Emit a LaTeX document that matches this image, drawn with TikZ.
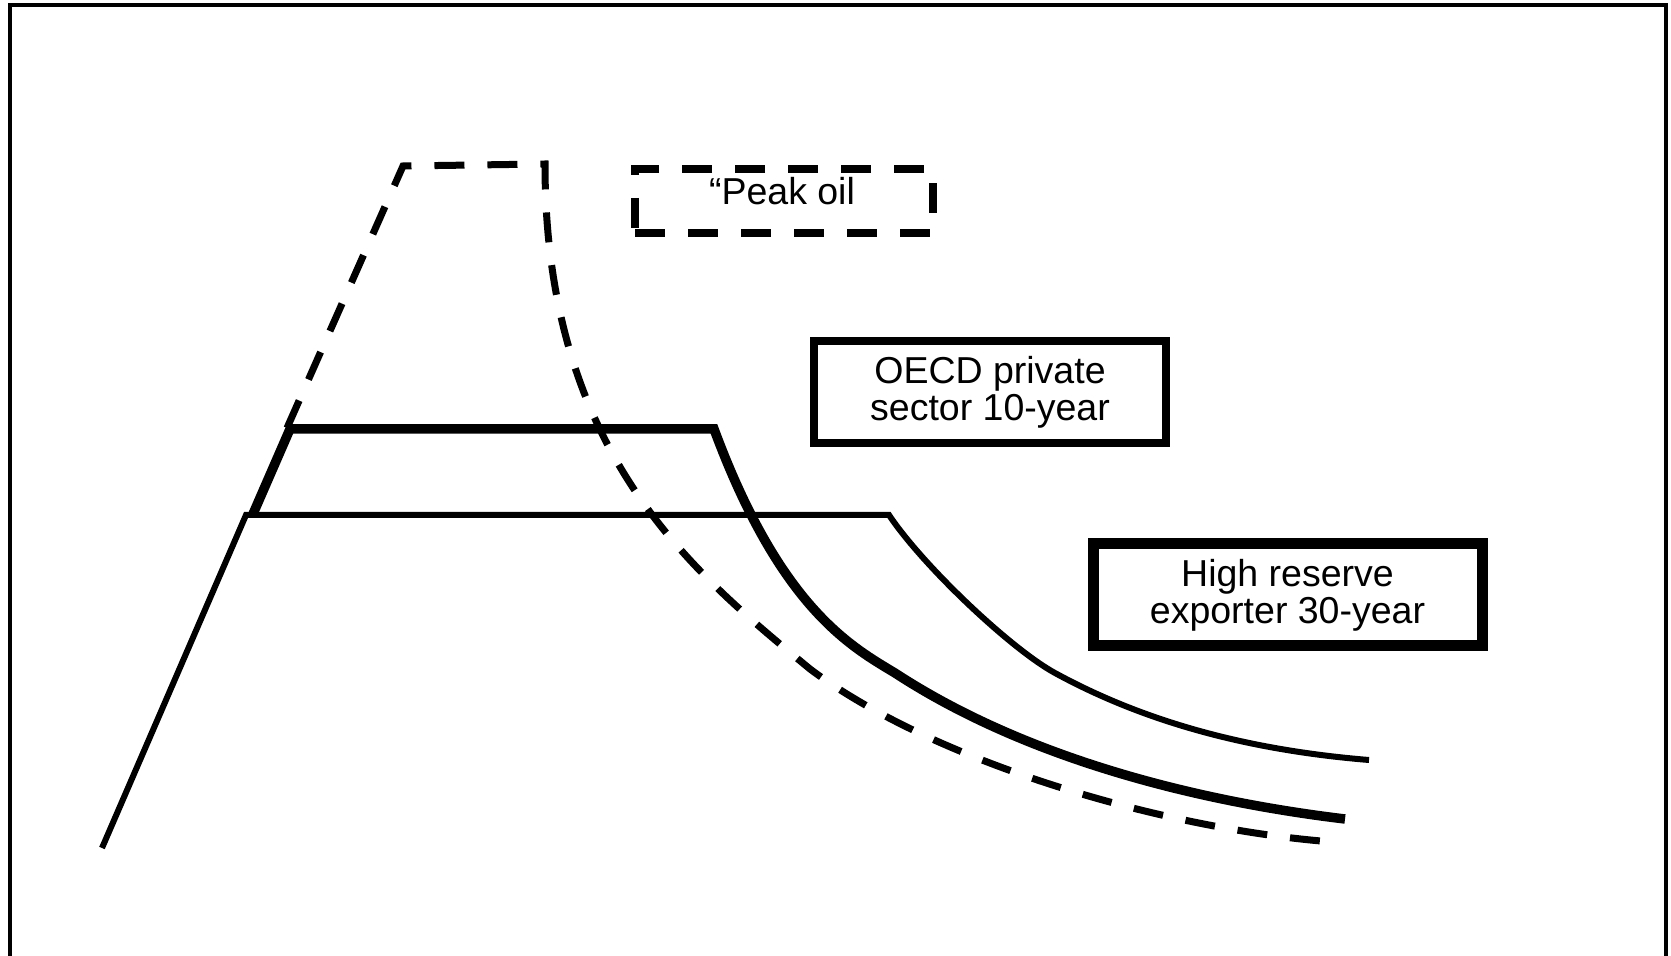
\documentclass[tikz,border=0pt]{standalone}
\usepackage{fontspec}
\setmainfont{Liberation Sans}
\begin{document}
\begin{tikzpicture}[x=0.5pt,y=-0.5pt,
  frameline/.style={line width=1.75pt},
  peakline/.style={line width=3.5pt, dash pattern=on 15pt off 11.5pt},
  tenline/.style={line width=4.75pt},
  thirtyline/.style={line width=3pt},
  lbl/.style={font=\fontsize{18.75pt}{18.5pt}\selectfont, align=center, inner sep=0pt},
  peakbox/.style={draw, line width=4pt, dash pattern=on 15pt off 11.5pt, inner sep=0pt},
  tenbox/.style={draw, line width=4pt, lbl},
  thirtybox/.style={draw, line width=5.5pt, lbl}
]
\useasboundingbox (0,0) rectangle (1671,956);
% frame
\draw[frameline] (10,956) -- (10,5) -- (1666,5) -- (1666,956);
% peak oil curve (dashed)
\draw[peakline] (287,428) -- (403,166) -- (545,164)
  .. controls (545,454) and (694,573) .. (810,669)
  .. controls (930,759) and (1151,826) .. (1321,841);
% OECD 10-year (thick)
\draw[tenline] (253,514) -- (290,429) -- (714,429)
  .. controls (780,607) and (850,646) .. (895,673)
  .. controls (1025,758) and (1195,801) .. (1345,819);
% High reserve exporter 30-year (thin)
\draw[thirtyline] (102,848) -- (246,515) -- (889,515)
  .. controls (923,566) and (1011,649) .. (1055,673)
  .. controls (1152,726) and (1259,751) .. (1369,760);
% labels
\node[peakbox, minimum width=149pt, minimum height=32pt] (peakframe) at (784,201) {};
\node[lbl, anchor=base] (peak) at (782,205) {“Peak oil};
\node[tenbox, minimum width=176pt, minimum height=51pt] (oecd) at (990,392) {OECD private\\sector 10-year};
\node[thirtybox, minimum width=194.5pt, minimum height=51pt] (hre) at (1287.5,595) {High reserve\\exporter 30-year};
\end{tikzpicture}
\end{document}
